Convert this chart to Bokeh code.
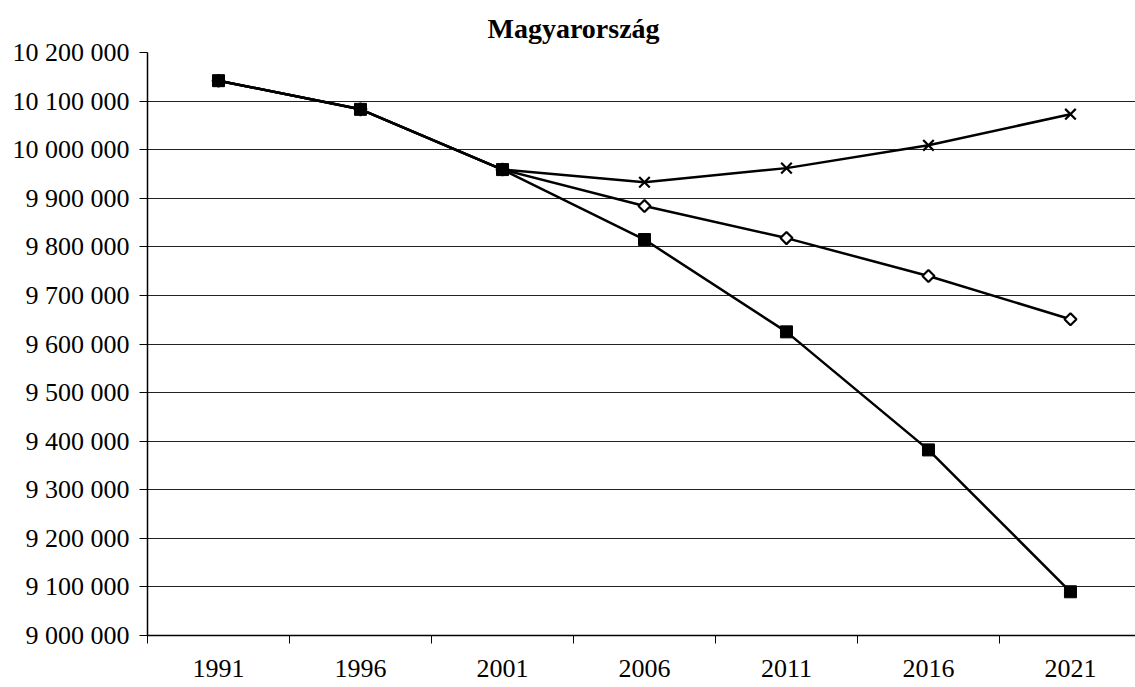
from bokeh.plotting import figure
from bokeh.models import FixedTicker, Range1d
from bokeh.embed import file_html
from bokeh.resources import INLINE

# ---- data ----
years = [1991, 1996, 2001, 2006, 2011, 2016, 2021]
series_square = [10142000, 10083000, 9959000, 9815000, 9625000, 9382000, 9090000]
series_diamond = [10142000, 10083000, 9959000, 9884000, 9818000, 9740000, 9651000]
series_cross = [10142000, 10083000, 9959000, 9933000, 9962000, 10009000, 10073000]
y_ticks = [9000000, 9100000, 9200000, 9300000, 9400000, 9500000, 9600000,
           9700000, 9800000, 9900000, 10000000, 10100000, 10200000]
y_tick_labels = ["9 000 000", "9 100 000", "9 200 000", "9 300 000", "9 400 000",
                 "9 500 000", "9 600 000", "9 700 000", "9 800 000", "9 900 000",
                 "10 000 000", "10 100 000", "10 200 000"]
title_text = "Magyarország"

x_pos = [i + 0.5 for i in range(len(years))]
boundaries = list(range(len(years) + 1))

FONT = "Liberation Serif"

p = figure(width=1135, height=687, output_backend="svg", toolbar_location=None,
           x_range=Range1d(0, 6.958), y_range=Range1d(y_ticks[0], y_ticks[-1]),
           min_border_left=147, min_border_right=0, min_border_top=52,
           min_border_bottom=52)
p.outline_line_color = None
p.background_fill_color = "white"
p.border_fill_color = "white"

p.title.text = title_text
p.title.text_font = FONT
p.title.text_font_style = "bold"
p.title.text_font_size = "28px"
p.title.text_color = "black"
p.title.align = "left"
p.title.offset = 340
p.title.vertical_align = "top"
p.title.standoff = 14

# x axis
xa = p.xaxis[0]
xa.ticker = FixedTicker(ticks=x_pos, minor_ticks=boundaries)
xa.major_label_overrides = {x: str(y) for x, y in zip(x_pos, years)}
xa.major_tick_out = 0
xa.major_tick_in = 0
xa.minor_tick_out = 8
xa.minor_tick_in = 0
xa.minor_tick_line_color = "black"
xa.axis_line_color = "black"
xa.axis_line_width = 1.5
xa.major_label_text_font = FONT
xa.major_label_text_font_size = "26px"
xa.major_label_text_color = "black"
xa.major_label_standoff = 16

# y axis
ya = p.yaxis[0]
ya.ticker = FixedTicker(ticks=y_ticks, minor_ticks=[])
ya.major_label_overrides = {v: s for v, s in zip(y_ticks, y_tick_labels)}
ya.major_tick_out = 8
ya.major_tick_in = 0
ya.major_tick_line_color = "black"
ya.axis_line_color = "black"
ya.axis_line_width = 1.5
ya.major_label_text_font = FONT
ya.major_label_text_font_size = "26px"
ya.major_label_text_color = "black"
ya.major_label_standoff = 10

p.xgrid.grid_line_color = None
p.ygrid.ticker = FixedTicker(ticks=y_ticks)
p.ygrid.grid_line_color = "#222222"
p.ygrid.grid_line_width = 1

# lines
for ys in (series_cross, series_diamond, series_square):
    p.line(x_pos, ys, line_color="black", line_width=2.5)

p.scatter(x_pos, series_cross, marker="x", size=15, line_color="black", line_width=2.2)
p.scatter(x_pos, series_diamond, marker="square", size=8.5, angle=0.785398,
          fill_color="white", line_color="black", line_width=2.2)
p.scatter(x_pos, series_square, marker="square", size=12, fill_color="black",
          line_color="black", line_width=1)

open("out.html", "w").write(file_html(p, INLINE))
